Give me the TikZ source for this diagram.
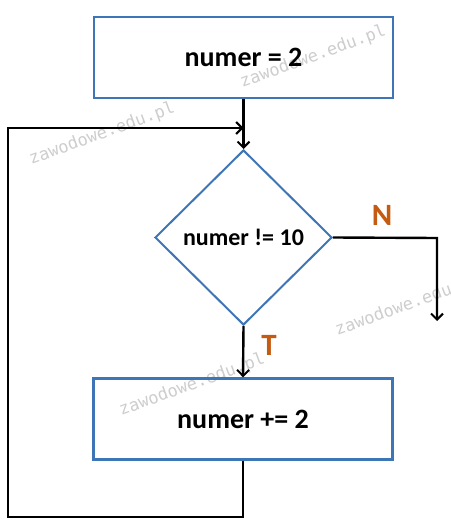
\documentclass[tikz,border=0pt]{standalone}
\usepackage{fontspec}
\setmainfont{Carlito}
\newfontfamily\wmfont{DejaVu Sans Mono}
\usetikzlibrary{arrows.meta,shapes.geometric}
\definecolor{boxblue}{RGB}{62,117,182}
\definecolor{lblorange}{RGB}{197,90,17}
\definecolor{wmgray}{RGB}{205,205,205}
\begin{document}
\begin{tikzpicture}[x=1pt,y=-1pt,
  procbox/.style={draw=boxblue,line width=2.4pt,minimum width=299pt,minimum height=81pt,inner sep=0pt,font=\fontsize{28}{32}\selectfont\bfseries},
  decbox/.style={diamond,draw=boxblue,line width=2pt,minimum width=177pt,minimum height=175pt,inner sep=0pt,aspect=1,font=\fontsize{24}{28}\selectfont\bfseries},
  flow/.style={line width=2.4pt,-{Straight Barb[length=6pt,width=12pt,line width=2pt]}},
  lbl/.style={text=lblorange,font=\fontsize{31}{34}\selectfont\bfseries},
  wm/.style={text=wmgray,rotate=20,font=\wmfont\fontsize{17}{19}\selectfont}]
\useasboundingbox (0,0) rectangle (450,529);
\begin{scope}
\clip (0,0) rectangle (450,529);
\node[wm] (wm1) at (313,57) {zawodowe.edu.pl};
\node[wm] (wm2) at (102,134) {zawodowe.edu.pl};
\node[wm] (wm3) at (408,305) {zawodowe.edu.pl};
\node[wm] (wm4) at (192,385) {zawodowe.edu.pl};
\end{scope}
\node[procbox] (start) at (243.5,57.5) {numer = 2};
\node[decbox] (cond) at (243.5,237.5) {numer != 10};
\node[procbox] (inc) at (243,419) {numer += 2};
\coordinate (merge) at (243.5,128);
\coordinate (loopL) at (8,128);
\coordinate (loopB) at (8,517);
\coordinate (loopR) at (243,517);
\coordinate (nTurn) at (437,238);
\coordinate (nEnd) at (437,321);
\draw[flow] (start.south) -- (cond.north);
\draw[flow] (cond.south) -- (inc.north);
\draw[flow] (inc.south) -- (loopR) -- (loopB) -- (loopL) -- (merge);
\draw[flow] (cond.east) -- (nTurn) -- (nEnd);
\node[lbl] (nlbl) at (382,215) {N};
\node[lbl] (tlbl) at (269,345) {T};
\end{tikzpicture}
\end{document}
